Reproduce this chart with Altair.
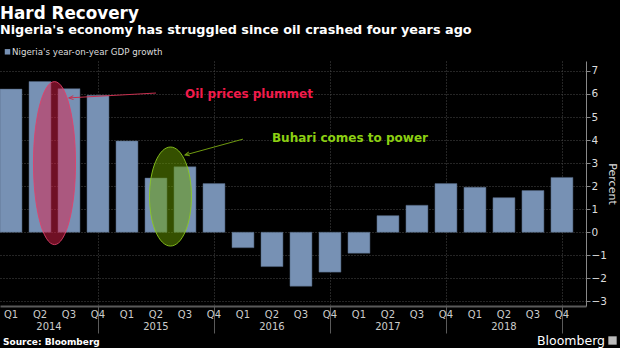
import altair as alt
import pandas as pd

# ---- data ----
quarters = ["Q1", "Q2", "Q3", "Q4"] * 5
years = [2014, 2015, 2016, 2017, 2018]
gdp = [6.21, 6.54, 6.23, 5.94, 3.96, 2.35, 2.84, 2.11,
       -0.67, -1.49, -2.34, -1.73, -0.91, 0.72, 1.17, 2.11,
       1.95, 1.50, 1.81, 2.38]
y_ticks = [-3, -2, -1, 0, 1, 2, 3, 4, 5, 6, 7]

title = "Hard Recovery"
subtitle = "Nigeria's economy has struggled since oil crashed four years ago"
legend_label = "Nigeria's year-on-year GDP growth"
source = "Source: Bloomberg"

# annotations (data coordinates: quarter index, percent)
notes = [
    {"text": "Oil prices plummet", "x": 6.0, "y": 6.0, "color": "#f21b4b"},
    {"text": "Buhari comes to power", "x": 9.0, "y": 4.1, "color": "#8ccf12"},
]
arrows = [
    {"x": 5.0, "y": 6.04, "x2": 2.0, "y2": 5.83, "color": "#c8304f", "angle": 356.7},
    {"x": 8.0, "y": 4.04, "x2": 6.0, "y2": 3.35, "color": "#6f9a10", "angle": 344.6},
]
ellipses = [
    {"x": 1.5, "y": 3.0, "fill": "#e0204a", "stroke": "#e0406a", "h": 163, "ratio": 0.258},
    {"x": 5.5, "y": 1.55, "fill": "#6aa000", "stroke": "#8cc81e", "h": 99, "ratio": 0.424},
]

n = len(gdp)
df = pd.DataFrame({"i": list(range(n)), "q": quarters, "v": gdp})
df["x0"] = df["i"] - 0.379
df["x1"] = df["i"] + 0.379

X_DOM = [-0.379, 19.83]
Y_DOM = [-3.2, 7.43]
W, H = 586, 245

xs = alt.Scale(domain=X_DOM, nice=False, zero=False)
ys = alt.Scale(domain=Y_DOM, nice=False, zero=False)

FONT = "DejaVu Sans"
GRID = "#4a4a4a"
BAR = "#7791b4"

seps = [3, 7, 11, 15, 19]

XAX = alt.Axis(
    orient="bottom", values=seps, labels=False, title=None,
    grid=True, gridColor=GRID, gridDash=[1, 2], gridWidth=1,
    domain=True, domainColor="#5a5a5a", domainWidth=2,
    ticks=True, tickSize=27, tickColor="#5a5a5a", tickWidth=1)
YAX = alt.Axis(
    orient="right", values=y_ticks, title="Percent",
    titleColor="#dddddd", titleFont=FONT, titleFontSize=11, titleFontWeight="normal",
    titlePadding=0, titleAngle=90,
    labelColor="#dddddd", labelFont=FONT, labelFontSize=10.5, labelPadding=1,
    labelOverlap=False, labelFlush=False,
    grid=True, gridColor=GRID, gridDash=[1, 2], gridWidth=1,
    domain=True, domainColor="#888888", domainWidth=1,
    ticks=True, tickSize=4, tickColor="#888888")


def X(field):
    return alt.X(field, scale=xs, axis=XAX)


def Y(field):
    return alt.Y(field, scale=ys, axis=YAX)


bars = alt.Chart(df).mark_bar(color=BAR, stroke="#50627c", strokeWidth=0.5).encode(
    x=X("x0:Q"), x2="x1:Q", y=Y("v:Q"), y2=alt.datum(0),
)


def ellipse_path(a):
    k = 0.5523
    return (f"M 0,-1 C {k*a:.4f},-1 {a:.4f},{-k:.4f} {a:.4f},0 "
            f"C {a:.4f},{k:.4f} {k*a:.4f},1 0,1 "
            f"C {-k*a:.4f},1 {-a:.4f},{k:.4f} {-a:.4f},0 "
            f"C {-a:.4f},{-k:.4f} {-k*a:.4f},-1 0,-1 Z")


ell_layers = []
for e in ellipses:
    ell_layers.append(
        alt.Chart(pd.DataFrame([e])).mark_point(
            shape=ellipse_path(e["ratio"]), filled=True, fill=e["fill"], fillOpacity=0.5,
            stroke=e["stroke"], strokeWidth=1, strokeOpacity=0.9, size=e["h"] ** 2, opacity=1
        ).encode(x=X("x:Q"), y=Y("y:Q"))
    )

arr_df = pd.DataFrame(arrows)
arrow_lines = alt.Chart(arr_df).mark_rule(strokeWidth=1).encode(
    x=X("x:Q"), y=Y("y:Q"), x2="x2:Q", y2="y2:Q",
    color=alt.Color("color:N", scale=None),
)
arrow_heads = alt.Chart(arr_df).mark_point(
    shape="M 2,-0.9 L 0,0 L 2,0.9", filled=False, size=20, strokeWidth=1, opacity=1
).encode(
    x=X("x2:Q"), y=Y("y2:Q"),
    color=alt.Color("color:N", scale=None),
    angle=alt.Angle("angle:Q", scale=None),
)

note_text = alt.Chart(pd.DataFrame(notes)).mark_text(
    align="left", baseline="middle", font=FONT, fontSize=12, fontWeight="bold"
).encode(
    x=X("x:Q"), y=Y("y:Q"),
    text="text:N", color=alt.Color("color:N", scale=None),
)

q_labels = alt.Chart(df).mark_text(
    baseline="middle", font=FONT, fontSize=10, color="#cccccc"
).encode(x=X("i:Q"), y=alt.value(315 - 61), text="q:N")

yr_df = pd.DataFrame({"year": [str(y) for y in years]})
yr_df["x"] = [((X_DOM[0] + seps[0]) / 2) if k == 0 else (seps[k - 1] + seps[k]) / 2
              for k in range(len(years))]
yr_labels = alt.Chart(yr_df).mark_text(
    baseline="middle", font=FONT, fontSize=10, color="#cccccc"
).encode(x=X("x:Q"), y=alt.value(327 - 61), text="year:N")

one = pd.DataFrame({"a": [0]})


def ptext(txt, x, y, size, weight="normal", color="#ffffff", align="left", baseline="alphabetic"):
    return alt.Chart(one).mark_text(
        text=txt, align=align, baseline=baseline, font=FONT, fontSize=size,
        fontWeight=weight, color=color
    ).encode(x=alt.value(x), y=alt.value(y - 61))


title_t = ptext(title, 0, 18.5, 16.8, "bold")
sub_t = ptext(subtitle, 0, 33.5, 12.8, "bold")
leg_sq = alt.Chart(one).mark_square(color=BAR, size=30, opacity=1).encode(
    x=alt.value(7.5), y=alt.value(51.8 - 61))
leg_t = ptext(legend_label, 12, 54.5, 8.7, "normal", "#dddddd")
src_t = ptext(source, 3, 344.5, 9, "bold", "#ffffff")
bb_t = ptext("Bloomberg", 605, 345, 12.5, "normal", "#ffffff", align="right")
bb_icon = alt.Chart(one).mark_square(color="#bbbbbb", size=70, opacity=1).encode(
    x=alt.value(612.5), y=alt.value(340.5 - 61))

chart = alt.layer(
    bars, *ell_layers, arrow_lines, arrow_heads, note_text,
    q_labels, yr_labels, title_t, sub_t, leg_sq, leg_t, src_t, bb_t, bb_icon
).properties(
    width=W, height=H, background="#000000",
    padding={"left": 0, "top": 61, "right": 34, "bottom": 42},
    autosize=alt.AutoSizeParams(type="none"),
).configure_view(stroke=None)

chart.save("out.html", embed_options={"renderer": "svg", "actions": False})
